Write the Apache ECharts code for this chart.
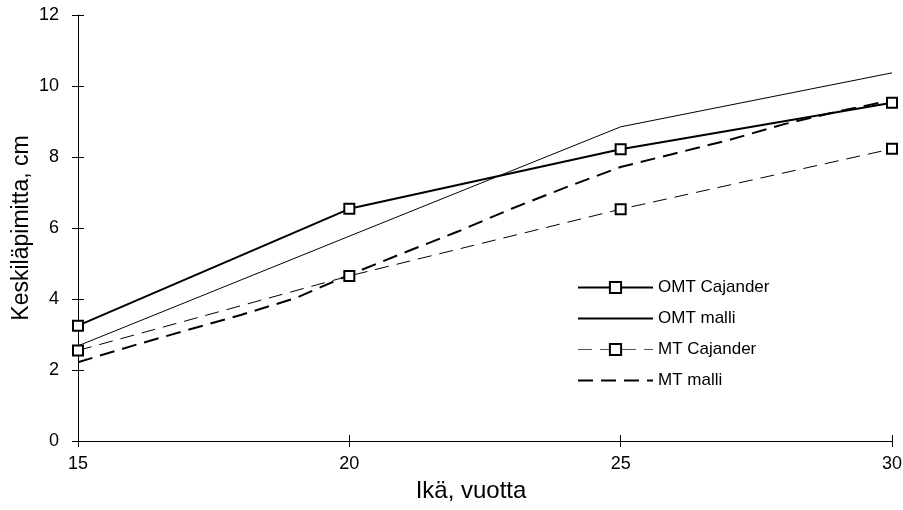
<!DOCTYPE html>
<html>
<head>
<meta charset="utf-8">
<script src="https://cdn.jsdelivr.net/npm/echarts@6/dist/echarts.min.js"></script>
<style>
  html, body { margin: 0; padding: 0; background: #fff; }
  #chart { width: 903px; height: 510px; }
</style>
</head>
<body>
<div id="chart"></div>
<script>
  // havaintoaineisto (Cajander) ja mallin arvot
  const ages = [15, 20, 25, 30];
  const omtCajander = [3.25, 6.54, 8.22, 9.53];
  const omtMalli = [2.68, 5.77, 8.85, 10.37];
  const mtCajander = [2.55, 4.65, 6.53, 8.23];
  const modelAges = [15, 16, 17, 18, 19, 20, 21, 22, 23, 24, 25, 26, 27, 28, 29, 30];
  const mtMalli = [2.22, 2.68, 3.12, 3.55, 4.02, 4.68, 5.3, 5.9, 6.55, 7.15, 7.72, 8.1, 8.48, 8.92, 9.28, 9.6];
  const xTicks = [15, 20, 25, 30];
  const yTicks = [0, 2, 4, 6, 8, 10, 12];

  const font = '"Liberation Sans", Arial, sans-serif';
  const pairs = (xs, ys) => xs.map((x, i) => [x, ys[i]]);

  const chart = echarts.init(document.getElementById('chart'));

  const markerStyle = {
    color: '#fff',
    borderColor: '#000',
    borderWidth: 2
  };

  const option = {
    animation: false,
    backgroundColor: '#fff',
    textStyle: { fontFamily: font, color: '#000' },
    grid: { left: 78, right: 11, top: 15, bottom: 69, outerBoundsMode: 'none', containLabel: false },
    legend: {
      orient: 'vertical',
      left: 577,
      top: 279,
      padding: 0,
      itemWidth: 75,
      itemHeight: 14,
      itemGap: 14,
      textStyle: { fontFamily: font, fontSize: 17, color: '#000' },
      data: [
        { name: 'OMT Cajander' },
        // mallikäyrillä ei merkkiä
        { name: 'OMT malli', itemStyle: { opacity: 0 } },
        { name: 'MT Cajander', lineStyle: { width: 1, color: '#555' } },
        { name: 'MT malli', itemStyle: { opacity: 0 } }
      ]
    },
    xAxis: [
      {
        type: 'value',
        min: xTicks[0],
        max: xTicks[xTicks.length - 1],
        interval: 5,
        name: 'Ikä, vuotta',
        nameLocation: 'middle',
        nameGap: 38,
        nameTextStyle: { fontFamily: font, fontSize: 24, color: '#000', padding: [0, 28, 0, 0] },
        axisLine: { lineStyle: { color: '#000', width: 1 } },
        axisTick: { length: 6, lineStyle: { color: '#000' } },
        axisLabel: { margin: 14, fontFamily: font, fontSize: 18, color: '#000' },
        splitLine: { show: false }
      },
      {
        // ylöspäin osoittavat tikut
        type: 'value',
        position: 'bottom',
        min: xTicks[0],
        max: xTicks[xTicks.length - 1],
        interval: 5,
        axisLine: { show: false },
        axisTick: { inside: true, length: 6, lineStyle: { color: '#000' } },
        axisLabel: { show: false },
        splitLine: { show: false }
      }
    ],
    yAxis: [
      {
        type: 'value',
        min: yTicks[0],
        max: yTicks[yTicks.length - 1],
        interval: 2,
        name: 'Keskiläpimitta, cm',
        nameLocation: 'middle',
        nameGap: 45,
        nameMoveOverlap: false,
        nameTextStyle: { fontFamily: font, fontSize: 23, color: '#000' },
        axisLine: { show: true, lineStyle: { color: '#000', width: 1 } },
        axisTick: { show: true, length: 6, lineStyle: { color: '#000' } },
        axisLabel: { margin: 19, fontFamily: font, fontSize: 18, color: '#000' },
        splitLine: { show: false }
      },
      {
        type: 'value',
        position: 'left',
        min: yTicks[0],
        max: yTicks[yTicks.length - 1],
        interval: 2,
        axisLine: { show: false },
        axisTick: { show: true, inside: true, length: 6, lineStyle: { color: '#000' } },
        axisLabel: { show: false },
        splitLine: { show: false }
      }
    ],
    series: [
      {
        name: 'OMT Cajander',
        type: 'line',
        z: 4,
        data: pairs(ages, omtCajander),
        symbol: 'rect',
        symbolSize: 10,
        itemStyle: markerStyle,
        lineStyle: { color: '#000', width: 2 }
      },
      {
        name: 'OMT malli',
        type: 'line',
        z: 2,
        data: pairs(ages, omtMalli),
        symbol: 'none',
        itemStyle: { color: '#000' },
        lineStyle: { color: '#000', width: 1 }
      },
      {
        name: 'MT Cajander',
        type: 'line',
        z: 4,
        data: pairs(ages, mtCajander),
        symbol: 'rect',
        symbolSize: 10,
        itemStyle: markerStyle,
        lineStyle: { color: '#000', width: 1, type: [14, 8] }
      },
      {
        name: 'MT malli',
        type: 'line',
        z: 3,
        data: pairs(modelAges, mtMalli),
        symbol: 'none',
        itemStyle: { color: '#000' },
        lineStyle: { color: '#000', width: 2, type: [15, 8] }
      }
    ]
  };

  chart.setOption(option);
</script>
</body>
</html>
